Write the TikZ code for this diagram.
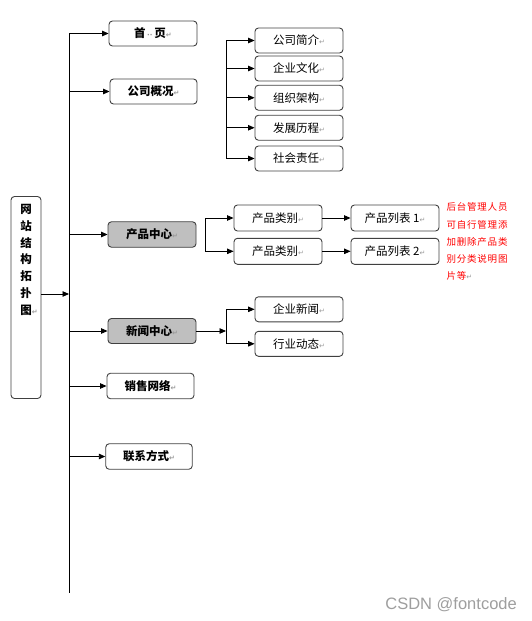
\documentclass[tikz,border=0pt]{standalone}
\usepackage{fontspec}
\usetikzlibrary{arrows.meta}
\newfontfamily\cjk{Noto Sans CJK SC}
\newfontfamily\cjkred{Noto Sans CJK SC}[LetterSpace=8]
\newfontfamily\dvs{DejaVu Sans}
\newfontfamily\wmfont{Liberation Sans}
\newcommand\pmk{{\dvs\color{black!40}\fontsize{7}{7}\selectfont ↵}}
\newcommand\spd{\hspace{1.5pt}{\dvs\color{black!45}\fontsize{7}{7}\selectfont ··}\hspace{2pt}}
\tikzset{
  arr/.style={-{Triangle[length=6.5pt,width=5.5pt]}, line width=0.9pt, black},
  ln/.style={line width=0.9pt, black},
  box/.style={draw=black!75, rounded corners=3.5pt, line width=0.9pt, minimum width=88pt, minimum height=25pt, inner sep=0pt, font=\cjk\fontsize{11.5}{13}\selectfont},
  bbox/.style={box, font=\cjk\bfseries\fontsize{11.5}{13}\selectfont},
  gbox/.style={bbox, fill=black!25},
}
\begin{document}
\begin{tikzpicture}[x=1pt,y=-1pt]
\useasboundingbox (0,0) rectangle (532,621);
% spine
\coordinate (top) at (69,33);
\coordinate (bot) at (69,593);
\coordinate (j) at (69,294);
\draw[ln] (top) -- (bot);
% root
\node[draw=black!75, rounded corners=3.5pt, line width=0.9pt, minimum width=30pt, minimum height=202pt, inner sep=0pt] (root) at (26,297.5) {};
\node[font=\cjk\bfseries\fontsize{11.5}{16.8}\selectfont, align=center, inner sep=0pt, anchor=north] (roottxt) at (26,204) {网\\站\\结\\构\\拓\\扑\\图\rlap{\pmk}};
\draw[arr] (root.east |- j) -- (j);
% level 1
\node[bbox] (home) at (153,33.5) {首\spd 页\pmk};
\node[bbox, minimum width=87pt] (gskk) at (153.5,91.5) {公司概况\pmk};
\node[gbox, minimum height=25.5pt] (cp) at (152,234.5) {产品中心\pmk};
\node[gbox] (xw) at (152,331) {新闻中心\pmk};
\node[bbox, minimum width=87pt, minimum height=25.5pt] (xs) at (150.5,386) {销售网络\pmk};
\node[bbox, minimum width=86.5pt, minimum height=25.5pt] (lx) at (149,456.5) {联系方式\pmk};
\foreach \n in {home,gskk,cp,xw,xs,lx}{
  \draw[arr] (\n.west -| top) -- (\n.west);
}
% company sub
\coordinate (b1) at (226,0);
\node[box] (s1) at (299,40.5) {公司简介\pmk};
\node[box] (s2) at (299,68.5) {企业文化\pmk};
\node[box] (s3) at (299,97.75) {组织架构\pmk};
\node[box] (s4) at (299,127.75) {发展历程\pmk};
\node[box] (s5) at (299,158.5) {社会责任\pmk};
\draw[ln] (s1.west -| b1) -- (s5.west -| b1);
\foreach \n in {s1,s2,s3,s4,s5}{
  \draw[arr] (\n.west -| b1) -- (\n.west);
}
% product sub
\coordinate (b2) at (205,0);
\node[box, minimum height=26pt] (c1) at (278,218) {产品类别\pmk};
\node[box, minimum height=26pt] (c2) at (278,251.3) {产品类别\pmk};
\node[box, minimum height=26pt] (l1) at (395,218) {产品列表 1\pmk};
\node[box, minimum height=26pt] (l2) at (395,251.3) {产品列表 2\pmk};
\draw[ln] (c1.west -| b2) -- (c2.west -| b2);
\draw[arr] (c1.west -| b2) -- (c1.west);
\draw[arr] (c2.west -| b2) -- (c2.west);
\draw[arr] (c1) -- (l1);
\draw[arr] (c2) -- (l2);
\node[anchor=north west, align=left, inner sep=0pt, text=red, font=\cjkred\fontsize{9.5}{17.3}\selectfont] (note) at (446.5,202.5) {后台管理人员\\可自行管理添\\加删除产品类\\别分类说明图\\片等\pmk};
% news sub
\coordinate (b3) at (226,0);
\node[box] (n1) at (299,309.3) {企业新闻\pmk};
\node[box] (n2) at (299,343.8) {行业动态\pmk};
\draw[arr] (xw.east) -- (b3 |- xw.east);
\draw[ln] (n1.west -| b3) -- (n2.west -| b3);
\draw[arr] (n1.west -| b3) -- (n1.west);
\draw[arr] (n2.west -| b3) -- (n2.west);
% watermark
\node[anchor=east, inner sep=0pt, text=black!38, font=\wmfont\fontsize{16.5}{17}\selectfont] (wm) at (517,605) {CSDN @fontcode};
\end{tikzpicture}
\end{document}
